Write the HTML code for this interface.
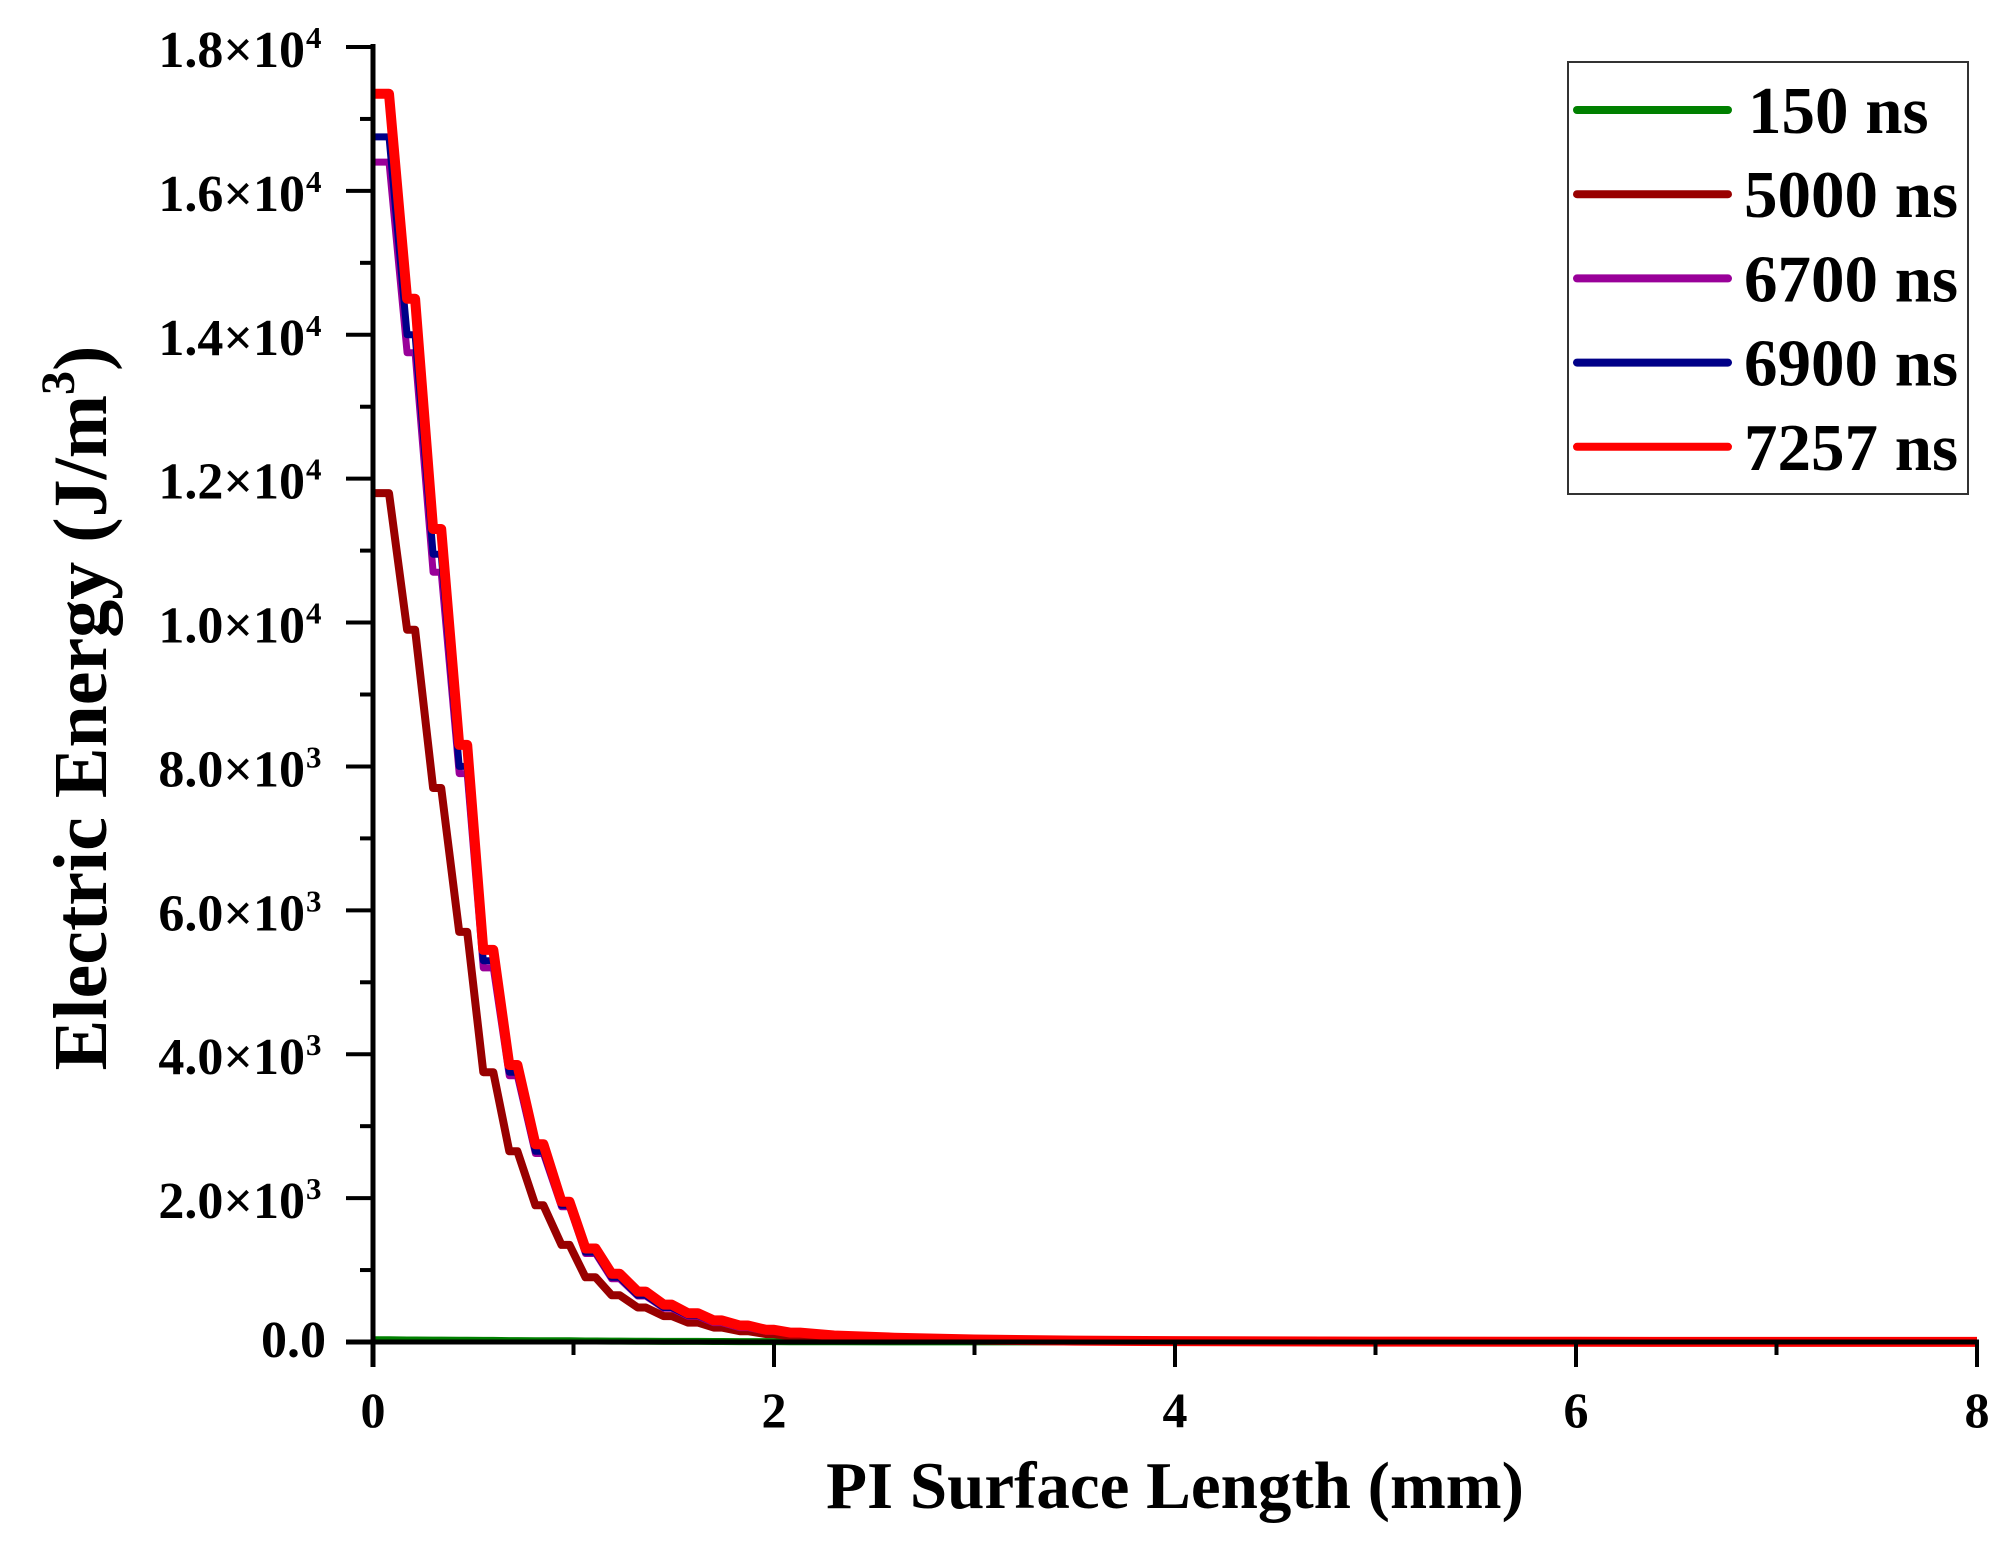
<!DOCTYPE html>
<html><head><meta charset="utf-8"><style>
html,body{margin:0;padding:0;background:#fff;}
svg{display:block;font-family:"Liberation Serif",serif;font-weight:bold;}
</style></head><body>
<svg id="chart" width="2007" height="1546" viewBox="0 0 2007 1546" xmlns="http://www.w3.org/2000/svg">
<g id="series"></g>
<g id="axes"></g>
<g id="legend"></g>
<text x="1175" y="1508" font-size="67" text-anchor="middle">PI Surface Length (mm)</text>
<text transform="translate(106,708) rotate(-90)" font-size="76" text-anchor="middle">Electric Energy (J/m<tspan font-size="48" dy="-32">3</tspan><tspan dy="32">)</tspan></text>
</svg>
<script>
const xTicks = [0, 2, 4, 6, 8];
const yTicks = [0, 2000, 4000, 6000, 8000, 10000, 12000, 14000, 16000, 18000];
const yTickLabels = ["0.0","2.0×10|3","4.0×10|3","6.0×10|3","8.0×10|3","1.0×10|4","1.2×10|4","1.4×10|4","1.6×10|4","1.8×10|4"];
const seriesNames = ["150 ns","5000 ns","6700 ns","6900 ns","7257 ns"];
const seriesColors = ["#008000","#990000","#990099","#000088","#ff0000"];
const xs = [0,0.08, 0.17,0.21, 0.30,0.34, 0.43,0.47, 0.55,0.60, 0.68,0.72, 0.81,0.85, 0.94,0.98, 1.06,1.11, 1.19,1.23, 1.32,1.36, 1.45,1.49, 1.57,1.62, 1.70,1.74, 1.83,1.87, 1.96,2.00, 2.08,2.13, 2.3,2.6,3.0,3.5,4,5,6,7,8];
const s150 = [30,30, 28,28, 26,26, 24,24, 22,22, 20,20, 18,18, 16,16, 14,14, 12,12, 10,10, 9,9, 8,8, 7,7, 6,6, 5,5, 4,4, 3,2,1,1,0,0,0,0,0];
const s5000 = [11800,11800, 9900,9900, 7700,7700, 5700,5700, 3750,3750, 2650,2650, 1900,1900, 1350,1350, 900,900, 650,650, 480,480, 360,360, 270,270, 200,200, 150,150, 110,110, 80,80, 55,35,20,12,7,3,2,1,1];
const s6700 = [16400,16400, 13750,13750, 10700,10700, 7900,7900, 5200,5200, 3700,3700, 2620,2620, 1880,1880, 1230,1230, 880,880, 640,640, 470,470, 360,360, 270,270, 200,200, 150,150, 115,115, 80,55,32,18,11,5,3,2,1];
const s6900 = [16750,16750, 14000,14000, 10950,10950, 8000,8000, 5300,5300, 3750,3750, 2650,2650, 1900,1900, 1250,1250, 900,900, 650,650, 480,480, 370,370, 280,280, 210,210, 160,160, 120,120, 85,58,34,19,12,5,3,2,1];
const s7257 = [17350,17350, 14500,14500, 11300,11300, 8300,8300, 5450,5450, 3850,3850, 2750,2750, 1950,1950, 1300,1300, 950,950, 700,700, 520,520, 400,400, 300,300, 230,230, 170,170, 130,130, 90,60,35,20,12,5,3,2,1];
const allSeries = [s150, s5000, s6700, s6900, s7257];
const seriesWidths = [7,8,7,7,10];

const X0=373, X1=1977, Y0=1342, Y1=47;
const xScale = v => X0 + (v-0)/(8-0)*(X1-X0);
const yScale = v => Y0 - v/18000*(Y0-Y1);
const NS="http://www.w3.org/2000/svg";
function mk(tag, attrs, parent){const e=document.createElementNS(NS,tag);for(const k in attrs)e.setAttribute(k,attrs[k]);parent.appendChild(e);return e;}

const gS=document.getElementById('series');
allSeries.forEach((s,i)=>{
  const d=s.map((v,j)=>(j?'L':'M')+xScale(xs[j]).toFixed(1)+','+yScale(v).toFixed(1)).join(' ');
  const p=mk('path',{d:d,fill:'none',stroke:seriesColors[i],'stroke-width':seriesWidths[i],'stroke-linejoin':'round'},gS);
  
  
});

const gA=document.getElementById('axes');
const ax=mk('line',{x1:X0,y1:Y0+25,x2:X0,y2:Y1-3,stroke:'#000','stroke-width':5},gA);


const bx=mk('line',{x1:X0-27,y1:Y0,x2:X1+2,y2:Y0,stroke:'#000','stroke-width':5},gA);


for(let m=0;m<=8;m++){
  const x=X0+m*(X1-X0)/8;
  const major=m%2===0;
  const t=mk('line',{x1:x,y1:Y0,x2:x,y2:Y0+(major?25:13),stroke:'#000','stroke-width':4},gA);
  
  
}
xTicks.forEach(v=>{
  const t=mk('text',{x:xScale(v),y:1427,'font-size':50,'text-anchor':'middle'},gA);
  t.textContent=String(v);
  
  
});
for(let m=0;m<=18;m++){
  const y=Y0-m*(Y0-Y1)/18;
  const major=m%2===0;
  const t=mk('line',{x1:X0,y1:y,x2:X0-(major?27:13),y2:y,stroke:'#000','stroke-width':4},gA);
  
  
}
yTicks.forEach((v,i)=>{
  const parts=yTickLabels[i].split('|');
  const hasExp=parts.length>1;
  const t=mk('text',{x:hasExp?305:326,y:yScale(v)+(hasExp?20:15),'font-size':52,'text-anchor':'end'},gA);
  t.textContent=parts[0];
  
  
  if(hasExp){
    const s=mk('text',{x:306,y:yScale(v)+1,'font-size':31,'text-anchor':'start'},gA);
    s.textContent=parts[1];
    
    
  }
});

const gL=document.getElementById('legend');
const box=mk('rect',{x:1568,y:62,width:400,height:432,fill:'#fff',stroke:'#333','stroke-width':2},gL);


seriesNames.forEach((n,i)=>{
  const y=110+i*84.2;
  const l=mk('line',{x1:1577,y1:y,x2:1728,y2:y,stroke:seriesColors[i],'stroke-width':8,'stroke-linecap':'round'},gL);
  
  
  const t=mk('text',{x:i===0?1748:1744,y:y+23,'font-size':67},gL);
  t.textContent=n;
  
  
});
</script>
</body></html>
